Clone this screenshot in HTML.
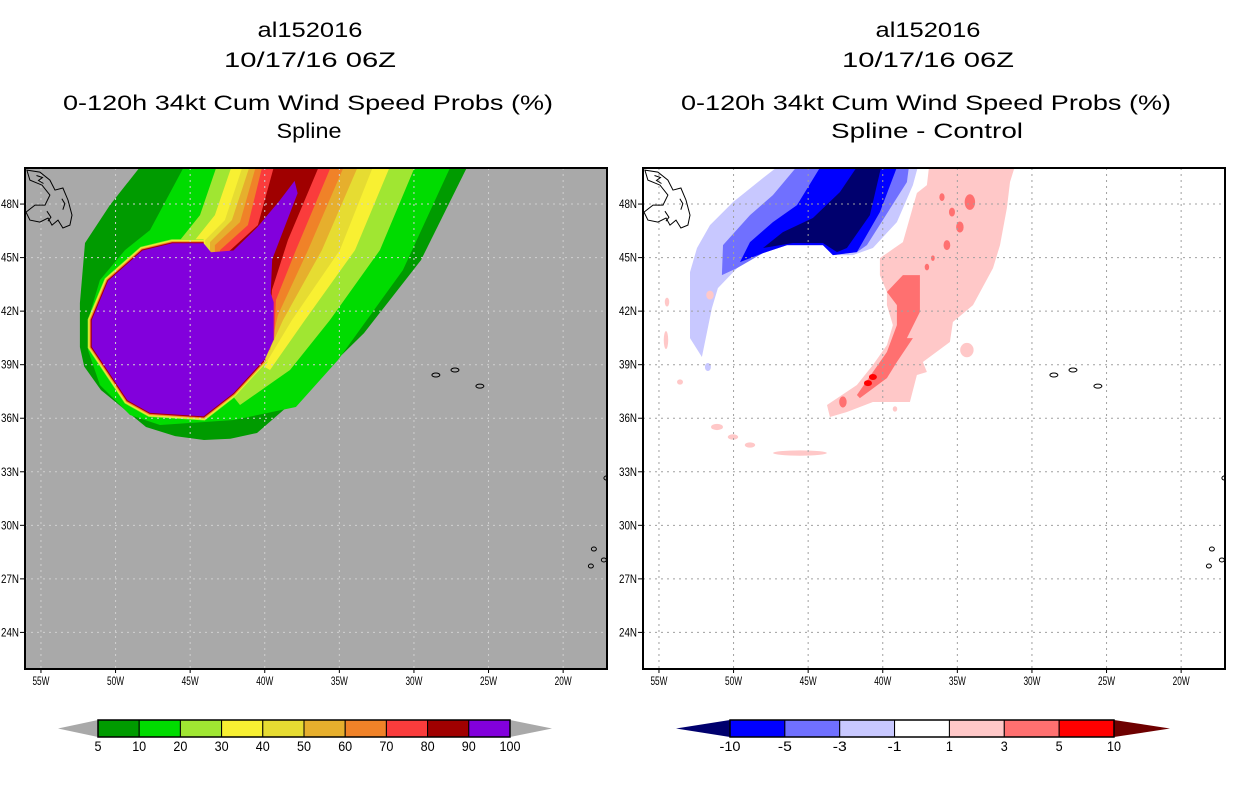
<!DOCTYPE html>
<html><head><meta charset="utf-8"><style>
html,body{margin:0;padding:0;background:#fff;}
svg{display:block;font-family:"Liberation Sans",sans-serif;}
</style></head><body>
<svg id="chart" width="1236" height="800" viewBox="0 0 1236 800" xmlns="http://www.w3.org/2000/svg">
<defs>
<clipPath id="clipL"><rect x="25" y="168" width="582" height="501"/></clipPath>
<clipPath id="clipR"><rect x="643" y="168" width="582" height="501"/></clipPath>
</defs>
<g text-anchor="middle" font-size="21" fill="#000">
<text x="310" y="37" textLength="105" lengthAdjust="spacingAndGlyphs">al152016</text>
<text x="310" y="67" textLength="172" lengthAdjust="spacingAndGlyphs">10/17/16 06Z</text>
<text x="308" y="110" textLength="490" lengthAdjust="spacingAndGlyphs">0-120h 34kt Cum Wind Speed Probs (%)</text>
<text x="309" y="138" textLength="65" lengthAdjust="spacingAndGlyphs">Spline</text>
</g>
<g text-anchor="middle" font-size="21" fill="#000">
<text x="928" y="37" textLength="105" lengthAdjust="spacingAndGlyphs">al152016</text>
<text x="928" y="67" textLength="172" lengthAdjust="spacingAndGlyphs">10/17/16 06Z</text>
<text x="926" y="110" textLength="490" lengthAdjust="spacingAndGlyphs">0-120h 34kt Cum Wind Speed Probs (%)</text>
<text x="927" y="138" textLength="192" lengthAdjust="spacingAndGlyphs">Spline - Control</text>
</g>
<g id="leftPanel"></g>
<g id="rightPanel"></g>
<g id="cbars"></g>
</svg>
<script>
// ---- map extent / axes data ----
const lonTicks = [-55,-50,-45,-40,-35,-30,-25,-20];
const latTicks = [48,45,42,39,36,33,30,27,24];
const lonRange = [-56.07,-17.06];
const latRange = [21.95,50.02];

// ---- left panel: cumulative probability contours (lon,lat) ----
const probLevels = [5,10,20,30,40,50,60,70,80,90];
const probColors = ['#009b00','#00dc00','#a0e632','#f8f032','#e6dc32','#e6af2d','#f08228','#fa3c3c','#a00000','#8200dc'];
const c5 = [[-26.18,50.5],[-29.53,44.86],[-33.35,40.77],[-37.44,37.41],[-40.52,35.17],[-42.3,34.85],[-44.07,34.78],[-46.0,35.0],[-47.96,35.51],[-50.98,37.58],[-52.1,38.9],[-52.39,39.99],[-52.39,42.45],[-52.05,45.82],[-50.38,47.94],[-47.96,50.5]];
const c10 = [[-27.32,50.5],[-30.74,44.3],[-35.09,39.26],[-37.91,36.63],[-42.06,35.9],[-47.02,35.62],[-49.03,36.18],[-51.05,37.86],[-51.85,39.82],[-51.85,41.5],[-51.05,43.74],[-49.37,45.42],[-47.69,46.54],[-45.15,50.5]];
const c20 = [[-29.73,50.5],[-32.28,45.42],[-35.63,41.5],[-38.31,38.7],[-41.66,36.74],[-45.68,40.94],[-45.68,45.98],[-44.34,47.38],[-43.07,50.5]];
const c30 = [[-31.41,50.5],[-33.95,45.42],[-37.31,41.5],[-39.65,38.7],[-44.34,40.94],[-44.68,45.98],[-43.34,47.38],[-42.06,50.5]];
const c40 = [[-32.55,50.5],[-34.96,45.42],[-38.18,41.5],[-39.99,38.98],[-43.67,40.94],[-44.0,45.98],[-42.67,47.1],[-41.33,50.5]];
const c50 = [[-33.55,50.5],[-36.17,45.42],[-38.78,41.5],[-39.99,39.26],[-43.67,40.94],[-43.67,45.87],[-42.2,47.1],[-40.86,50.5]];
const c60 = [[-34.49,50.5],[-37.1,45.42],[-39.12,41.78],[-39.65,39.82],[-43.34,40.94],[-43.34,45.7],[-41.66,46.99],[-40.46,50.5]];
const c70 = [[-35.36,50.5],[-37.91,45.42],[-39.25,42.62],[-39.38,40.38],[-43.0,40.94],[-43.0,45.42],[-41.13,46.82],[-40.05,50.5]];
const c80 = [[-36.17,50.5],[-38.45,45.98],[-39.52,43.18],[-39.65,40.94],[-43.0,40.94],[-43.67,45.08],[-42.67,45.14],[-40.46,46.82],[-39.25,50.5]];
const c90 = [[-51.6,41.5],[-50.5,43.7],[-48.2,45.4],[-46.2,45.8],[-44.1,45.8],[-43.6,45.3],[-42.1,45.4],[-40.5,46.7],[-39.0,48.2],[-38.0,49.3],[-37.8,48.6],[-39.5,44.9],[-39.6,43.0],[-39.4,42.5],[-39.4,40.4],[-40.0,39.3],[-42.1,37.4],[-44.1,36.1],[-47.7,36.3],[-49.2,37.0],[-51.6,40.0]];

// ---- right panel: difference contours ----
const diffLevels = [-10,-5,-3,-1,1,3,5,10];
const diffColors = ['#00006e','#0000ff','#7070ff','#c8c8ff','#ffffff','#ffc8c8','#ff7070','#ff0000','#6e0000'];
const dNeg1 = [[-46.42,50.5],[-48.03,49.46],[-50.04,48.11],[-51.58,46.82],[-52.45,45.54],[-52.92,44.19],[-52.92,40.49],[-52.12,39.43],[-51.45,42.17],[-51.05,43.29],[-49.57,44.58],[-48.03,45.25],[-46.42,45.7],[-44.01,45.7],[-43.34,45.14],[-42.0,45.14],[-40.66,45.54],[-39.05,46.99],[-37.98,49.06],[-37.51,50.5]];
const dNeg3 = [[-45.35,50.5],[-47.36,48.5],[-48.9,47.38],[-50.71,45.7],[-50.78,44.02],[-49.77,44.41],[-48.03,45.25],[-46.42,45.7],[-44.01,45.7],[-43.34,45.14],[-41.73,45.31],[-41.06,45.7],[-38.38,49.23],[-38.18,50.5]];
const dNeg5 = [[-43.87,50.5],[-45.75,47.94],[-47.36,46.99],[-48.9,45.87],[-49.57,44.75],[-48.03,45.25],[-46.42,45.7],[-44.01,45.7],[-43.34,45.14],[-41.73,45.31],[-40.19,47.55],[-38.85,50.5]];
const dNeg10 = [[-41.39,50.5],[-42.87,48.67],[-44.68,47.22],[-46.69,46.43],[-48.03,45.54],[-46.02,45.82],[-44.01,45.82],[-43.07,45.31],[-42.4,45.54],[-40.86,47.38],[-39.99,50.5]];
const dPos1 = [[-36.84,50.5],[-37.04,49.06],[-37.71,48.62],[-38.65,45.87],[-40.19,44.97],[-40.19,44.02],[-39.72,43.07],[-39.72,42.34],[-39.32,41.22],[-39.72,40.1],[-40.66,38.98],[-41.73,37.86],[-43.74,36.74],[-43.54,36.07],[-42.4,36.35],[-40.66,36.91],[-38.18,36.91],[-37.71,38.42],[-37.04,38.59],[-37.31,39.15],[-35.5,40.27],[-35.3,41.39],[-33.95,42.34],[-32.61,44.41],[-32.14,45.7],[-31.68,47.78],[-31.47,49.23],[-31.0,50.5]];
const dPos3 = [[-38.65,44.02],[-39.72,43.07],[-39.05,42.34],[-39.05,41.22],[-39.72,39.71],[-41.73,37.3],[-41.53,37.13],[-39.72,38.25],[-39.05,39.15],[-37.98,40.49],[-38.38,40.49],[-37.51,41.95],[-37.51,44.02]];
const pos3CellLon = [-37.04,-36.64,-35.7,-34.83,-35.36,-34.16,-36.03,-42.67];
const pos3CellLat = [44.47,44.97,45.7,46.71,47.55,48.11,48.39,36.91];
const pos3CellSize = [0.3,0.25,0.45,0.5,0.4,0.7,0.35,0.5];
const pos5CellLon = [-40.66,-40.99];
const pos5CellLat = [38.31,37.97];
const pos1CellLon = [-51.11,-50.04,-48.9,-45.55,-53.59,-54.46,-54.53,-51.58,-34.36,-39.18];
const pos1CellLat = [35.51,34.95,34.5,34.05,38.03,42.51,40.38,42.9,39.82,36.52];
const pos1CellW = [0.8,0.7,0.7,3.6,0.4,0.3,0.3,0.5,0.9,0.3];
const pos1CellH = [0.35,0.3,0.3,0.3,0.3,0.5,1.0,0.5,0.8,0.3];
const neg1CellLon = [-51.72];
const neg1CellLat = [38.87];

// ---- coastlines ----
const nfld = [[-55.94,49.9],[-55.07,49.79],[-54.4,49.34],[-54.06,48.78],[-53.53,48.9],[-53.19,48.22],[-52.92,47.38],[-53.06,46.82],[-53.53,46.66],[-53.86,47.1],[-54.26,46.82],[-54.53,47.22],[-55.07,46.99],[-55.74,47.1],[-56.0,47.55],[-55.4,47.94],[-54.73,47.94],[-54.4,48.5],[-54.93,49.06],[-55.74,49.34]];
const islandLon = [-28.53,-27.25,-25.58,-17.94,-18.14,-17.27,-17.1];
const islandLat = [38.42,38.7,37.8,28.67,27.72,28.06,32.65];

const NS='http://www.w3.org/2000/svg';
function mk(tag, attrs, parent){const e=document.createElementNS(NS,tag);for(const k in attrs)e.setAttribute(k,attrs[k]);if(parent)parent.appendChild(e);return e;}
function xScale(x0){return lon=>x0+(lon-lonRange[0])/(lonRange[1]-lonRange[0])*582;}
function yScale(lat){return 168+(latRange[1]-lat)/(latRange[1]-latRange[0])*501;}
function pathOf(pts,xs,close){return pts.map((p,i)=>(i?'L':'M')+xs(p[0]).toFixed(1)+','+yScale(p[1]).toFixed(1)).join('')+(close?'Z':'');}

function drawFrame(g,x0,clip,bg){
  const xs=xScale(x0);
  const r=mk('rect',{x:x0,y:168,width:582,height:501,fill:bg},g);
  
  
  return xs;
}
function drawGridAxes(g,x0,gridCol){
  const xs=xScale(x0);
  const grid=mk('g',{'clip-path':'url(#'+(x0<300?'clipL':'clipR')+')'},g);
  
  
  lonTicks.forEach(l=>{const ln=mk('line',{x1:xs(l),x2:xs(l),y1:168,y2:669,stroke:gridCol,'stroke-width':1,'stroke-dasharray':'2,4'},grid);
    });
  latTicks.forEach(l=>{const ln=mk('line',{x1:x0,x2:x0+582,y1:yScale(l),y2:yScale(l),stroke:gridCol,'stroke-width':1,'stroke-dasharray':'2,4'},grid);
    });
  const coast=mk('g',{'clip-path':'url(#'+(x0<300?'clipL':'clipR')+')',fill:'none',stroke:'#000','stroke-width':1},g);
  
  
  mk('path',{d:pathOf(nfld,xs,true)},coast);
  mk('path',{d:'M'+xs(-55.3)+','+yScale(49.6)+'l6,2l-4,3l5,3M'+xs(-54.6)+','+yScale(47.6)+'l4,6l-3,4M'+xs(-53.6)+','+yScale(48.3)+'l3,5l-2,6'},coast);
  islandLon.forEach((lo,i)=>{const e=mk('ellipse',{cx:xs(lo),cy:yScale(islandLat[i]),rx:i<3?4:2.5,ry:2},coast);
    });
  const b=mk('rect',{x:x0,y:168,width:582,height:501,fill:'none',stroke:'#000','stroke-width':2},g);
  
  const ax=mk('g',{'font-size':12,fill:'#000'},g);
  
  lonTicks.forEach(l=>{const t=mk('text',{x:xs(l),y:685,'text-anchor':'middle',textLength:17,lengthAdjust:'spacingAndGlyphs'},ax);t.textContent=(-l)+'W';
    
    mk('line',{x1:xs(l),x2:xs(l),y1:669,y2:673,stroke:'#000'},ax);});
  latTicks.forEach(l=>{const t=mk('text',{x:x0-6,y:yScale(l)+4,'text-anchor':'end',textLength:18,lengthAdjust:'spacingAndGlyphs'},ax);t.textContent=l+'N';
    
    mk('line',{x1:x0-5,x2:x0,y1:yScale(l),y2:yScale(l),stroke:'#000'},ax);});
}

// LEFT
(function(){
  const g=document.getElementById('leftPanel');const x0=25;
  const xs=drawFrame(g,x0,'clipL','#a9a9a9');
  const f=mk('g',{'clip-path':'url(#clipL)'},g);
  
  const contours=[c5,c10,c20,c30,c40,c50,c60,c70,c80];
  contours.forEach((c,i)=>{const p=mk('path',{d:pathOf(c,xs,true),fill:probColors[i]},f);
    });
  const edge=c90.slice(15).concat(c90.slice(0,5));
  const widths=[8,6.5,5.2,4.2,3.4,2.6,1.8];
  widths.forEach((w,i)=>{const p=mk('path',{d:pathOf(edge,xs,false),fill:'none',stroke:probColors[i+2],'stroke-width':w,'stroke-linejoin':'miter'},f);
    });
  const core=mk('path',{d:pathOf(c90,xs,true),fill:probColors[9]},f);
  
  drawGridAxes(g,x0,'#d0d0d0');
})();

// RIGHT
(function(){
  const g=document.getElementById('rightPanel');const x0=643;
  const xs=drawFrame(g,x0,'clipR','#ffffff');
  const f=mk('g',{'clip-path':'url(#clipR)'},g);
  
  const neg=[[dNeg1,3],[dNeg3,2],[dNeg5,1],[dNeg10,0]];
  neg.forEach(([c,ci])=>{const p=mk('path',{d:pathOf(c,xs,true),fill:diffColors[ci]},f);
    });
  neg1CellLon.forEach((lo,i)=>{const e=mk('ellipse',{cx:xs(lo),cy:yScale(neg1CellLat[i]),rx:3,ry:4,fill:diffColors[3]},f);
    });
  const p1=mk('path',{d:pathOf(dPos1,xs,true),fill:diffColors[5]},f);
  
  pos1CellLon.forEach((lo,i)=>{const w=pos1CellW[i]*14.92/2,h=pos1CellH[i]*17.85/2;
    const e=mk('ellipse',{cx:xs(lo),cy:yScale(pos1CellLat[i]),rx:w,ry:h,fill:diffColors[5]},f);
    });
  const p3=mk('path',{d:pathOf(dPos3,xs,true),fill:diffColors[6]},f);
  
  pos3CellLon.forEach((lo,i)=>{const s=pos3CellSize[i];
    const e=mk('ellipse',{cx:xs(lo),cy:yScale(pos3CellLat[i]),rx:s*14.92/2,ry:s*17.85/1.6,fill:diffColors[6]},f);
    });
  pos5CellLon.forEach((lo,i)=>{const e=mk('ellipse',{cx:xs(lo),cy:yScale(pos5CellLat[i]),rx:4,ry:3,fill:diffColors[7]},f);
    });
  drawGridAxes(g,x0,'#a0a0a0');
})();

// COLORBARS
const probBarLabels = ['5','10','20','30','40','50','60','70','80','90','100'];
const diffBarLabels = ['-10','-5','-3','-1','1','3','5','10'];
(function(){
  const g=document.getElementById('cbars');
  function bar(x0,x1,lt,rt,colors,labels,ltCol,rtCol,name){
    const gg=mk('g',{},g);
    
    const y0=720,y1=737,n=colors.length,w=(x1-x0)/n;
    const a=mk('polygon',{points:`${lt},${(y0+y1)/2} ${x0},${y0} ${x0},${y1}`,fill:ltCol},gg);
    
    const b=mk('polygon',{points:`${rt},${(y0+y1)/2} ${x1},${y0} ${x1},${y1}`,fill:rtCol},gg);
    
    colors.forEach((c,i)=>{const r=mk('rect',{x:x0+i*w,y:y0,width:w,height:y1-y0,fill:c,stroke:'#000','stroke-width':1},gg);
      });
    mk('rect',{x:x0,y:y0,width:x1-x0,height:y1-y0,fill:'none',stroke:'#000','stroke-width':1.5},gg);
    labels.forEach((l,i)=>{const t=mk('text',{x:x0+i*w,y:751,'text-anchor':'middle','font-size':14,textLength:l.length*7,lengthAdjust:'spacingAndGlyphs'},gg);
      t.textContent=l;});
  }
  bar(98,510,58,552,probColors,probBarLabels,'#a9a9a9','#a9a9a9','prob-colorbar');
  bar(730,1114,676,1170,diffColors.slice(1,8),diffBarLabels,diffColors[0],diffColors[8],'diff-colorbar');
})();
</script>
</body></html>
